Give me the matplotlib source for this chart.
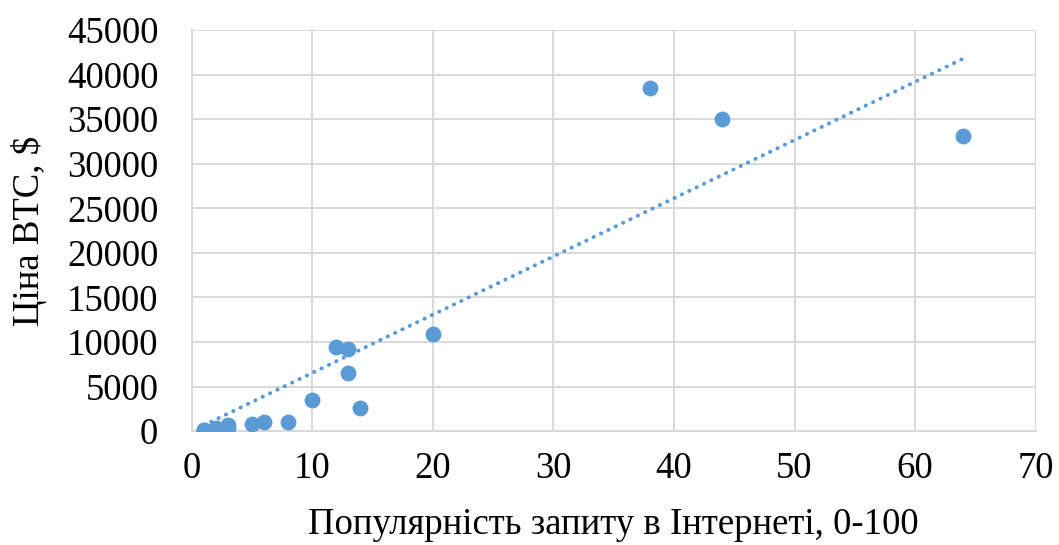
import numpy as np
import matplotlib.pyplot as plt

plt.rcParams['font.family'] = ['Liberation Serif', 'DejaVu Serif']

# popularity of the search query (0-100) vs BTC price
popularity = [1, 1, 1, 2, 3, 3, 5, 6, 8, 10, 12, 13, 13, 14, 20, 38, 44, 64]
price = [50, 100, 150, 300, 300, 700, 800, 1000, 1000, 3500, 9400, 9200,
         6500, 2600, 10900, 38500, 35000, 33100]

x_ticks = [0, 10, 20, 30, 40, 50, 60, 70]
y_ticks = [0, 5000, 10000, 15000, 20000, 25000, 30000, 35000, 40000, 45000]

color = '#5B9BD5'
grid_color = '#d9d9d9'

fig = plt.figure(figsize=(10.59, 5.45), dpi=100)
ax = fig.add_axes([0.181, 0.209, 0.797, 0.736])

ax.scatter(popularity, price, s=130, color=color, zorder=3, linewidths=0)

# linear trend line through the origin (intercept fixed at 0)
px = np.array(popularity, dtype=float)
py = np.array(price, dtype=float)
k = np.dot(px, py) / np.dot(px, px)
xs = np.array([px.min(), px.max()])
ax.plot(xs, k * xs, color=color, linewidth=2.8,
        linestyle=(0, (0.1, 2.0)), dash_capstyle='round', zorder=2)

ax.set_xlim(0, 70)
ax.set_ylim(0, 45000)
ax.set_xticks(x_ticks)
ax.set_yticks(y_ticks)
ax.grid(True, color=grid_color, linewidth=1.4)
ax.set_axisbelow(True)
for side in ['top', 'right']:
    ax.spines[side].set_visible(False)
for side in ['left', 'bottom']:
    ax.spines[side].set_color(grid_color)
    ax.spines[side].set_linewidth(1.4)
ax.tick_params(length=0, labelsize=26.5, colors='black')
ax.tick_params(axis='x', pad=15)
ax.tick_params(axis='y', pad=24)

ax.set_xlabel('Популярність запиту в Інтернеті, 0-100', fontsize=26.5, labelpad=15)
ax.set_ylabel('Ціна BTC, $', fontsize=26.5, labelpad=14)

plt.savefig('out.png', dpi=100)
